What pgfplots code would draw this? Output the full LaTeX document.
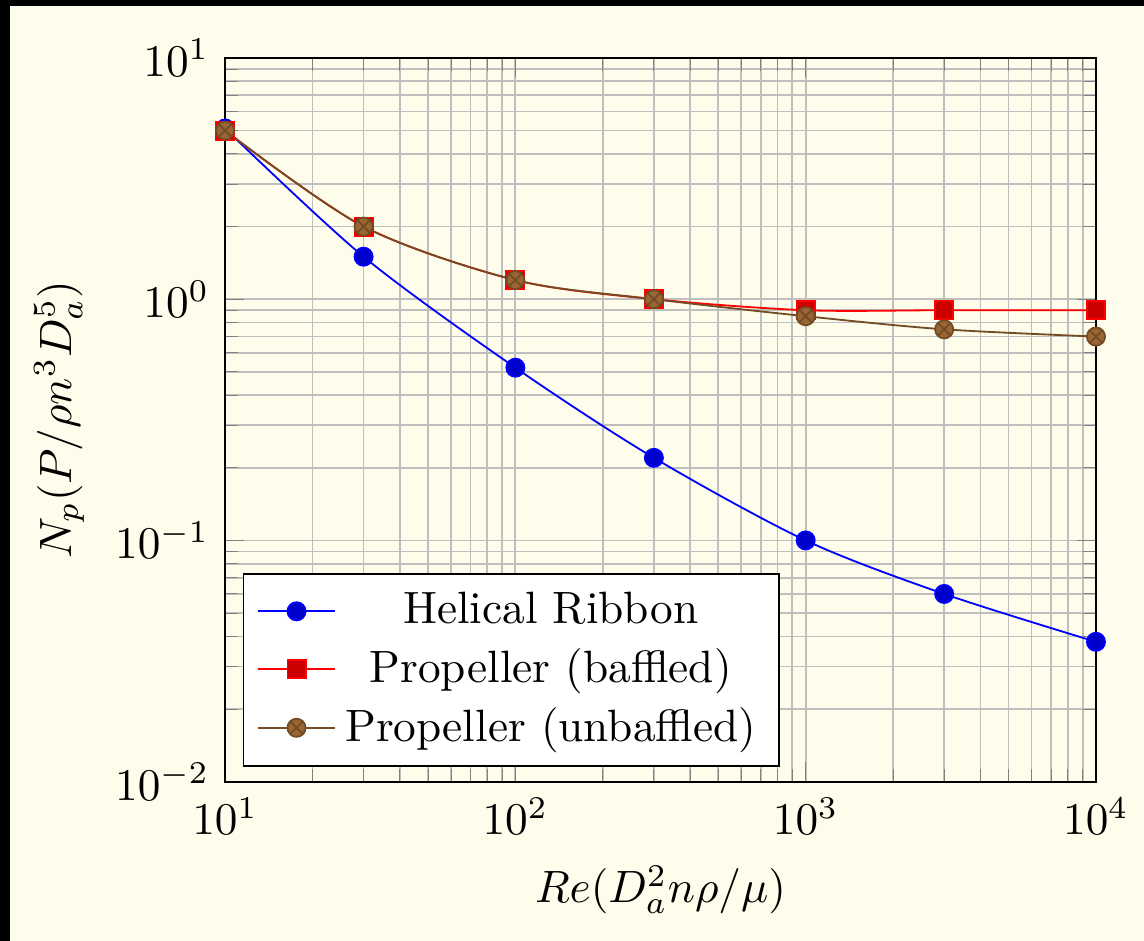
\documentclass[border=0pt]{standalone}
\usepackage{pgfplots}
\pgfplotsset{compat=1.18}
\usetikzlibrary{backgrounds}
\definecolor{cream}{RGB}{254,252,234}
\begin{document}
\begin{tikzpicture}
\begin{axis}[
  at={(0,0)}, anchor=south west,
  scale only axis,
  width=192.3pt, height=159.8pt,
  xmode=log, ymode=log,
  xmin=10, xmax=10000, ymin=0.01, ymax=10,
  grid=both,
  xlabel={$Re(D_a^2 n\rho/\mu)$},
  ylabel={$N_p(P/\rho n^3 D_a^5)$},
  legend cell align=center,
  legend style={at={(0.02,0.02)}, anchor=south west, fill=white},
]
\addplot+[smooth] coordinates {(10,5.1) (30,1.5) (100,0.52) (300,0.22) (1000,0.1) (3000,0.06) (10000,0.038)};
\addlegendentry{Helical Ribbon}
\addplot+[smooth] coordinates {(10,5) (30,2) (100,1.2) (300,1.0) (1000,0.9) (3000,0.9) (10000,0.9)};
\addlegendentry{Propeller (baffled)}
\addplot+[smooth] coordinates {(10,5) (30,2) (100,1.2) (300,1.0) (1000,0.85) (3000,0.75) (10000,0.7)};
\addlegendentry{Propeller (unbaffled)}
\end{axis}
\begin{pgfonlayer}{background}
\fill[black] (-49.7pt,-35.1pt) rectangle (202.9pt,172.6pt);
\fill[cream] (-47.5pt,-35.1pt) rectangle (202.9pt,171.3pt);
\end{pgfonlayer}
\end{tikzpicture}
\end{document}
